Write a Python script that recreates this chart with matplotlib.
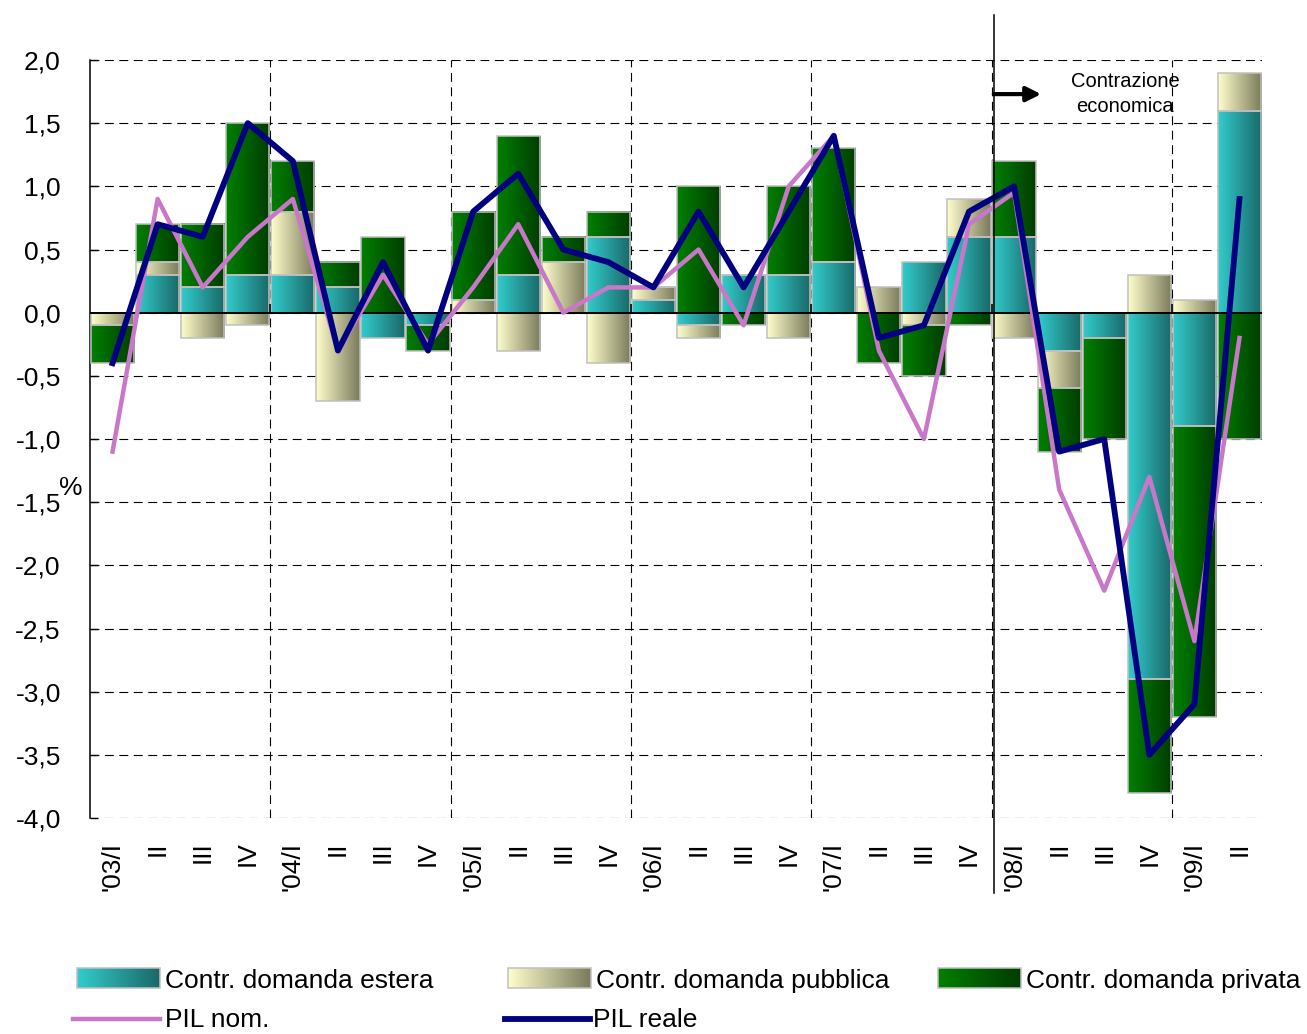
import numpy as np
import matplotlib
matplotlib.use('Agg')
import matplotlib.pyplot as plt
from matplotlib.colors import LinearSegmentedColormap
from matplotlib.patches import Rectangle

plt.rcParams['font.family'] = ['Liberation Sans', 'DejaVu Sans']

# quarters '03/I .. '09/II
quarters = ["'03/I", 'II', 'III', 'IV',
            "'04/I", 'II', 'III', 'IV',
            "'05/I", 'II', 'III', 'IV',
            "'06/I", 'II', 'III', 'IV',
            "'07/I", 'II', 'III', 'IV',
            "'08/I", 'II', 'III', 'IV',
            "'09/I", 'II']

# contributions to growth (p.p.)
estera = [0.0, 0.3, 0.2, 0.3, 0.3, 0.2, -0.2, -0.1, 0.0, 0.3, 0.0, 0.6, 0.1,
          -0.1, 0.3, 0.3, 0.4, 0.0, 0.4, 0.6, 0.6, -0.3, -0.2, -2.9, -0.9, 1.6]
pubblica = [-0.1, 0.1, -0.2, -0.1, 0.5, -0.7, 0.0, 0.0, 0.1, -0.3, 0.4, -0.4, 0.1,
            -0.1, 0.0, -0.2, 0.0, 0.2, -0.1, 0.3, -0.2, -0.3, 0.0, 0.3, 0.1, 0.3]
privata = [-0.3, 0.3, 0.5, 1.2, 0.4, 0.2, 0.6, -0.2, 0.7, 1.1, 0.2, 0.2, 0.0,
           1.0, -0.1, 0.7, 0.9, -0.4, -0.4, -0.1, 0.6, -0.5, -0.8, -0.9, -2.3, -1.0]

pil_nom = [-1.1, 0.9, 0.2, 0.6, 0.9, -0.3, 0.3, -0.25, 0.2, 0.7, 0.0, 0.2, 0.2,
           0.5, -0.1, 1.0, 1.4, -0.3, -1.0, 0.7, 0.95, -1.4, -2.2, -1.3, -2.6, -0.2]
pil_reale = [-0.4, 0.7, 0.6, 1.5, 1.2, -0.3, 0.4, -0.3, 0.8, 1.1, 0.5, 0.4, 0.2,
             0.8, 0.2, 0.8, 1.4, -0.2, -0.1, 0.8, 1.0, -1.1, -1.0, -3.5, -3.1, 0.9]

yticks = np.arange(-4.0, 2.01, 0.5)

series = [('Contr. domanda estera', estera, ('#33cccc', '#1a6868')),
          ('Contr. domanda pubblica', pubblica, ('#ffffcc', '#7a7a5c')),
          ('Contr. domanda privata', privata, ('#008000', '#003c00'))]
nom_color = '#c977c9'
reale_color = '#000080'

W, H = 1307, 1034
fig = plt.figure(figsize=(W / 100, H / 100), dpi=100)
ax = fig.add_axes([90 / W, 1 - 818 / H, (1262 - 90) / W, (818 - 60) / H])

x = np.arange(len(quarters))
grad = np.linspace(0, 1, 128).reshape(1, -1)
pos_base = np.zeros(len(x))
neg_base = np.zeros(len(x))
for name, vals, cols in series:
    vals = np.array(vals)
    cmap = LinearSegmentedColormap.from_list(name, cols)
    bottom = np.where(vals >= 0, pos_base, neg_base)
    bars = ax.bar(x, vals, 0.96, bottom=bottom, facecolor='none',
                  edgecolor='#c0c0c0', lw=1.1, zorder=3)
    for b, v in zip(bars, vals):
        if v == 0:
            continue
        x0, y0 = b.get_x(), b.get_y()
        ax.imshow(grad, cmap=cmap, aspect='auto', interpolation='bilinear',
                  extent=[x0, x0 + b.get_width(), y0, y0 + b.get_height()],
                  zorder=2)
    pos_base += np.clip(vals, 0, None)
    neg_base += np.clip(vals, None, 0)

ax.plot(x, pil_nom, color=nom_color, lw=3.2, zorder=5)
ax.plot(x, pil_reale, color=reale_color, lw=4.2, zorder=6)

# grid
dash = (0, (8, 5))
for yv in yticks:
    ax.axhline(yv, color='black', lw=0.8, ls=dash, zorder=1)
ax.vlines([3.5, 7.5, 11.5, 15.5, 19.5, 23.5], -4, 2, color='black', lw=0.8,
          ls=dash, zorder=1)
ax.axhline(0, color='black', lw=1.4, zorder=4)
ax.vlines([3.5, 7.5, 11.5, 15.5, 19.5, 23.5], 0, 0.065, color='black', lw=1.1,
          zorder=4)

# start of the contraction
ax.plot([19.55, 19.55], [2.356, -4.594], color='black', lw=1.1, zorder=7,
        clip_on=False)
ax.annotate('', xy=(20.6, 1.73), xytext=(19.55, 1.73), annotation_clip=False,
            arrowprops=dict(arrowstyle='-|>', color='black', lw=3,
                            mutation_scale=22, shrinkA=0, shrinkB=0), zorder=7)
ax.text(22.47, 1.73, 'Contrazione\neconomica', ha='center', va='center',
        fontsize=14.5, linespacing=1.45)

ax.set_xlim(-0.5, 25.5)
ax.set_ylim(-4, 2)
ax.set_yticks(yticks)
ax.set_yticklabels([f'{v:.1f}'.replace('.', ',') for v in yticks])
ax.set_xticks(x)
ax.set_xticklabels(quarters, rotation=90)
ax.tick_params(axis='y', direction='in', length=6, width=1, pad=21,
               labelsize=19)
ax.tick_params(axis='x', length=0, pad=17, labelsize=19)
for s in ['top', 'right', 'bottom']:
    ax.spines[s].set_visible(False)
ax.spines['left'].set_linewidth(1.1)
fig.text(71 / W, 1 - 488 / H, '%', ha='center', va='center', fontsize=19)

# legend drawn in pixel coordinates
lax = fig.add_axes([0, 0, 1, 1], zorder=-1)
lax.axis('off')
for x0, (name, vals, cols) in zip([77, 508, 938], series):
    cmap = LinearSegmentedColormap.from_list(name, cols)
    lax.imshow(grad, cmap=cmap, aspect='auto', interpolation='bilinear',
               extent=[x0, x0 + 83, 988, 968])
    lax.add_patch(Rectangle((x0, 968), 83, 20, fill=False, ec='#c0c0c0', lw=1.1))
    lax.text(x0 + 88, 988, name, va='baseline', fontsize=19)
lax.plot([73, 160], [1019, 1019], color=nom_color, lw=3.2)
lax.text(165, 1027, 'PIL nom.', va='baseline', fontsize=19)
lax.plot([505, 590], [1019, 1019], color=reale_color, lw=4.2)
lax.text(593, 1027, 'PIL reale', va='baseline', fontsize=19)
lax.set_xlim(0, W)
lax.set_ylim(H, 0)

fig.savefig('out.png', dpi=100)
